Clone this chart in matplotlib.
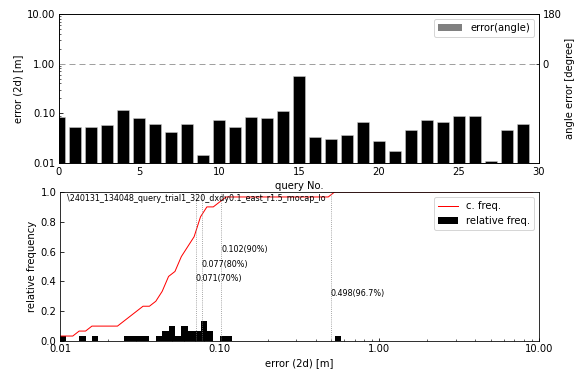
import numpy as np
import matplotlib
matplotlib.use("Agg")
import matplotlib.pyplot as plt
from matplotlib.patches import Patch
from matplotlib.ticker import FormatStrFormatter, FixedLocator

# ---- data ----
query_no = list(range(30))
errors_2d = [0.083, 0.052, 0.052, 0.057, 0.119, 0.082, 0.060, 0.043, 0.062, 0.0143,
             0.072, 0.052, 0.083, 0.082, 0.109, 0.565, 0.0328, 0.030, 0.036, 0.068,
             0.0273, 0.0172, 0.046, 0.075, 0.068, 0.089, 0.089, 0.0109, 0.047, 0.062]
angle_ticks = [0, 180]
pct_values = [0.071, 0.077, 0.102, 0.498]
pct_labels = ["0.071(70%)", "0.077(80%)", "0.102(90%)", "0.498(96.7%)"]
pct_text_y = [0.4, 0.5, 0.6, 0.3]
title_text = "\\240131_134048_query_trial1_320_dxdy0.1_east_r1.5_mocap_lo"

plt.rcParams['xtick.direction'] = 'in'
plt.rcParams['ytick.direction'] = 'in'

fig = plt.figure(figsize=(574 / 72, 372 / 72), dpi=72)

# ---- top: per-query error ----
ax1 = fig.add_axes([59 / 574, 1 - 163 / 372, 480 / 574, 149 / 372])
ax1.bar(query_no, errors_2d, width=0.8, color='black', edgecolor='#d0d0d0', linewidth=0.5)
ax1.set_yscale('log')
ax1.set_ylim(0.01, 10)
ax1.set_xlim(0, 30)
ax1.yaxis.set_major_formatter(FormatStrFormatter('%.2f'))
ax1.set_xlabel('query No.')
ax1.set_ylabel('error (2d) [m]')

ax2 = ax1.twinx()
ax2.set_ylim(-360, 180)
ax2.yaxis.set_major_locator(FixedLocator(angle_ticks))
ax2.axhline(0, color='#a0a0a0', linestyle=(0, (6, 4)), linewidth=1)
ax2.set_ylabel('angle error [degree]')
ax2.legend(handles=[Patch(facecolor='gray', label='error(angle)')], loc='upper right',
           handlelength=2.4)

# ---- bottom: histogram and cumulative frequency ----
ax3 = fig.add_axes([60 / 574, 1 - 341 / 372, 479 / 574, 149 / 372])
bins = np.logspace(-2, 1, 76)
counts, edges = np.histogram(errors_2d, bins=bins)
n = len(errors_2d)
bars = ax3.bar(edges[:-1], counts / n, width=np.diff(edges), align='edge',
               color='black', linewidth=0, label='relative freq.')
line, = ax3.plot(edges[:-1], np.cumsum(counts) / n, color='red', linewidth=1, label='c. freq.')
for v, lab, ty in zip(pct_values, pct_labels, pct_text_y):
    ax3.axvline(v, color='gray', linestyle=':', linewidth=0.8)
    ax3.text(v, ty, lab, fontsize=8)
ax3.set_xscale('log')
ax3.set_xlim(0.01, 10)
ax3.set_ylim(0, 1.0)
ax3.xaxis.set_major_formatter(FormatStrFormatter('%.2f'))
ax3.set_xlabel('error (2d) [m]')
ax3.set_ylabel('relative frequency')
ax3.text(0.015, 0.985, title_text, transform=ax3.transAxes, fontsize=8, va='top')
ax3.legend([line, bars], ['c. freq.', 'relative freq.'], loc='upper right')

fig.savefig('out.png', dpi=72)
